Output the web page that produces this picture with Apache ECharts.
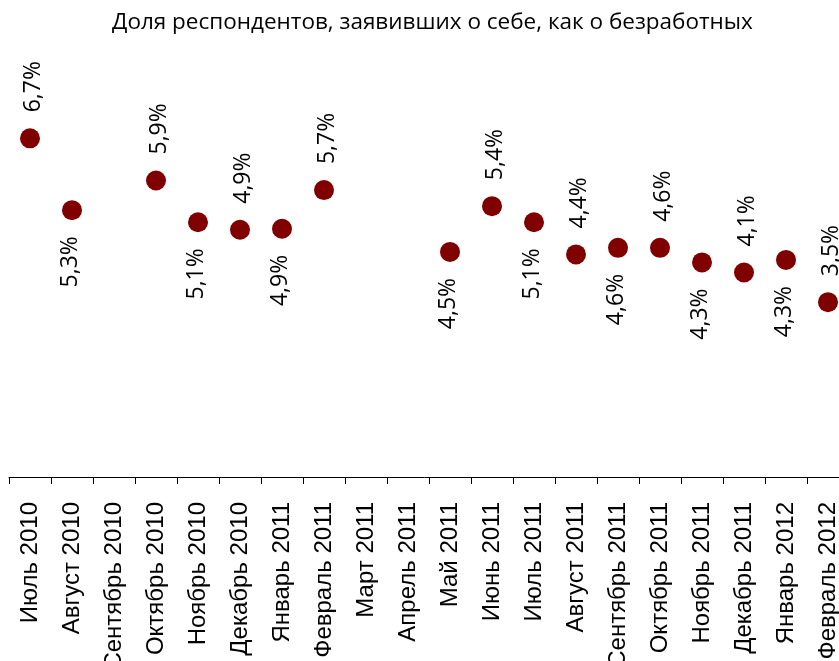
<!DOCTYPE html>
<html>
<head>
<meta charset="utf-8">
<script src="https://cdn.jsdelivr.net/npm/echarts@6/dist/echarts.min.js"></script>
<style>
  html, body { margin: 0; padding: 0; background: #fff; }
  #main { width: 839px; height: 661px; }
</style>
</head>
<body>
<div id="main"></div>
<script>
  // месяцы опроса
  var months = ['Июль 2010', 'Август 2010', 'Сентябрь 2010', 'Октябрь 2010', 'Ноябрь 2010',
    'Декабрь 2010', 'Январь 2011', 'Февраль 2011', 'Март 2011', 'Апрель 2011', 'Май 2011',
    'Июнь 2011', 'Июль 2011', 'Август 2011', 'Сентябрь 2011', 'Октябрь 2011', 'Ноябрь 2011',
    'Декабрь 2011', 'Январь 2012', 'Февраль 2012'];
  // доля безработных, %
  var unemployed = [6.74, 5.31, null, 5.90, 5.07, 4.92, 4.94, 5.71, null, null, 4.48,
    5.39, 5.07, 4.43, 4.56, 4.56, 4.27, 4.07, 4.32, 3.48];
  // подпись сверху (true) или снизу (false)
  var labelAbove = [true, false, true, true, false, true, false, true, true, true, false,
    true, false, true, false, true, false, true, false, true];

  var chart = echarts.init(document.getElementById('main'));

  var points = unemployed.map(function (v, i) {
    var above = labelAbove[i];
    return {
      value: v,
      label: {
        position: above ? 'top' : 'bottom',
        align: above ? 'left' : 'right',
        // смещение в повёрнутой системе: второе число - вбок
        offset: above ? [0, 3] : [0, -2]
      }
    };
  });

  chart.setOption({
    animation: false,
    title: {
      text: 'Доля респондентов, заявивших о себе, как о безработных',
      left: 107,
      top: 6,
      textStyle: {
        fontFamily: 'Open Sans',
        fontSize: 22.5,
        fontWeight: 'normal',
        color: '#000'
      }
    },
    grid: {
      left: 9,
      width: 840,
      top: 75,
      height: 402,
      outerBoundsMode: 'none'
    },
    xAxis: {
      type: 'category',
      data: months,
      boundaryGap: true,
      axisLine: {
        lineStyle: { color: '#000', width: 1 }
      },
      axisTick: {
        show: true,
        interval: 0,
        length: 7,
        lineStyle: { color: '#000' }
      },
      axisLabel: {
        interval: 0,
        rotate: 90,
        margin: 25,
        color: '#000',
        fontFamily: 'Liberation Sans',
        fontSize: 24
      },
      splitLine: { show: false }
    },
    yAxis: {
      type: 'value',
      min: 0,
      max: 8,
      show: false
    },
    series: [{
      type: 'scatter',
      data: points,
      symbol: 'circle',
      symbolSize: 20,
      itemStyle: { color: '#800000', opacity: 1 },
      label: {
        show: true,
        rotate: 90,
        distance: 16,
        verticalAlign: 'middle',
        fontFamily: 'Open Sans',
        fontSize: 23,
        color: '#000',
        formatter: function (p) {
          return p.value.toFixed(1).replace('.', ',') + '%';
        }
      }
    }]
  });
</script>
</body>
</html>
